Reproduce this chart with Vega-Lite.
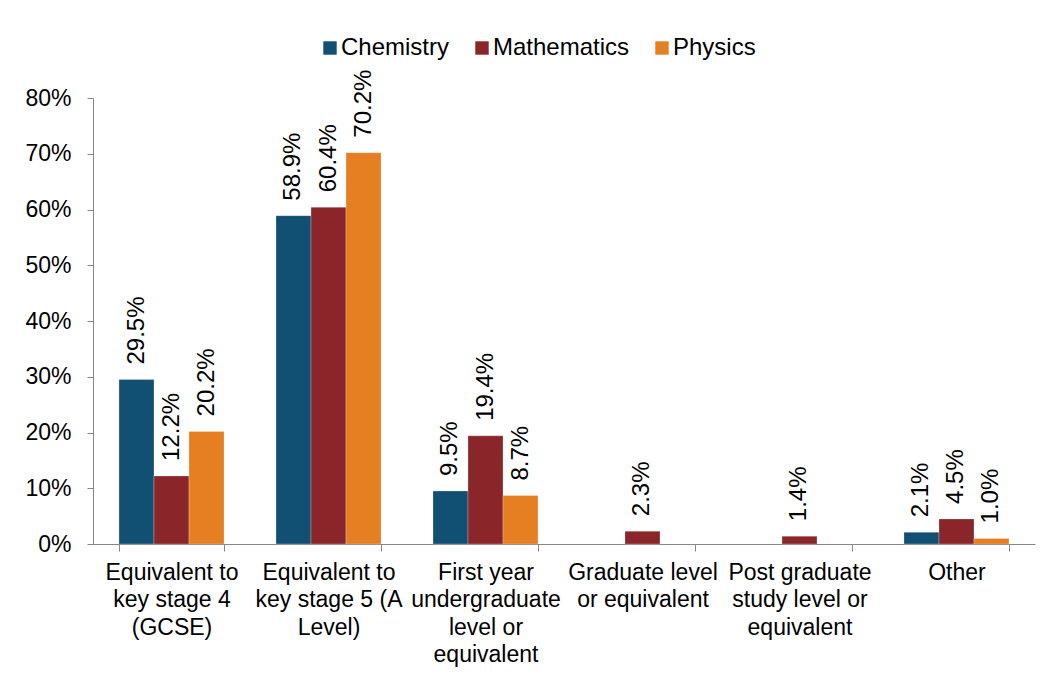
{
  "$schema": "https://vega.github.io/schema/vega-lite/v6.json",
  "autosize": "none",
  "width": 942,
  "height": 446,
  "padding": {"left": 93, "top": 98, "right": 16, "bottom": 134},
  "background": "white",
  "config": {
    "view": {"stroke": null},
    "font": "Liberation Sans",
    "axis": {"grid": false, "domainColor": "#868686", "tickColor": "#868686", "labelColor": "#000000", "labelFont": "Liberation Sans", "labelFontSize": 23, "title": null}
  },
  "data": {
    "values": [
      {"level": "Equivalent to key stage 4 (GCSE)", "subject": "Chemistry", "share": 0.295},
      {"level": "Equivalent to key stage 4 (GCSE)", "subject": "Mathematics", "share": 0.122},
      {"level": "Equivalent to key stage 4 (GCSE)", "subject": "Physics", "share": 0.202},
      {"level": "Equivalent to key stage 5 (A Level)", "subject": "Chemistry", "share": 0.589},
      {"level": "Equivalent to key stage 5 (A Level)", "subject": "Mathematics", "share": 0.604},
      {"level": "Equivalent to key stage 5 (A Level)", "subject": "Physics", "share": 0.702},
      {"level": "First year undergraduate level or equivalent", "subject": "Chemistry", "share": 0.095},
      {"level": "First year undergraduate level or equivalent", "subject": "Mathematics", "share": 0.194},
      {"level": "First year undergraduate level or equivalent", "subject": "Physics", "share": 0.087},
      {"level": "Graduate level or equivalent", "subject": "Mathematics", "share": 0.023},
      {"level": "Post graduate study level or equivalent", "subject": "Mathematics", "share": 0.014},
      {"level": "Other", "subject": "Chemistry", "share": 0.021},
      {"level": "Other", "subject": "Mathematics", "share": 0.045},
      {"level": "Other", "subject": "Physics", "share": 0.010}
    ]
  },
  "encoding": {
    "x": {
      "field": "level", "type": "nominal", "sort": null,
      "scale": {"paddingInner": 0.331, "paddingOuter": 0.1656},
      "axis": {
        "labelAngle": 0, "tickBand": "extent", "tickSize": 7, "labelPadding": 10,
        "labelLineHeight": 27.5, "labelOverlap": false, "labelBound": false, "labelLimit": 0,
        "labelBaseline": "top",
        "labelExpr": "({'Equivalent to key stage 4 (GCSE)': ['Equivalent to', 'key stage 4', '(GCSE)'], 'Equivalent to key stage 5 (A Level)': ['Equivalent to', 'key stage 5 (A', 'Level)'], 'First year undergraduate level or equivalent': ['First year', 'undergraduate', 'level or', 'equivalent'], 'Graduate level or equivalent': ['Graduate level', 'or equivalent'], 'Post graduate study level or equivalent': ['Post graduate', 'study level or', 'equivalent'], 'Other': ['Other']})[datum.label]"
      }
    },
    "xOffset": {"field": "subject", "type": "nominal", "scale": {"domain": ["Chemistry", "Mathematics", "Physics"], "paddingInner": 0, "paddingOuter": 0}},
    "y": {
      "field": "share", "type": "quantitative",
      "scale": {"domain": [0, 0.8], "nice": false},
      "axis": {"values": [0, 0.1, 0.2, 0.3, 0.4, 0.5, 0.6, 0.7, 0.8], "format": ".0%", "tickSize": 6, "labelPadding": 16}
    }
  },
  "layer": [
    {
      "mark": {"type": "bar", "stroke": "white", "strokeWidth": 0.5, "strokeOpacity": 0.5},
      "encoding": {
        "color": {
          "field": "subject", "type": "nominal",
          "scale": {"domain": ["Chemistry", "Mathematics", "Physics"], "range": ["#115073", "#8A2529", "#E67E22"]},
          "legend": {
            "title": null, "orient": "none", "legendX": 225, "legendY": -62,
            "direction": "horizontal", "symbolType": "square", "symbolSize": 180,
            "symbolStrokeWidth": 0, "labelFontSize": 24, "labelFont": "Liberation Sans",
            "labelColor": "#000000", "labelOffset": -1, "columnPadding": 20, "padding": 0
          }
        }
      }
    },
    {
      "mark": {"type": "text", "angle": 270, "align": "left", "baseline": "middle", "dx": 15, "fontSize": 24, "font": "Liberation Sans", "color": "#000000"},
      "encoding": {
        "text": {"field": "share", "type": "quantitative", "format": ".1%"}
      }
    }
  ]
}
